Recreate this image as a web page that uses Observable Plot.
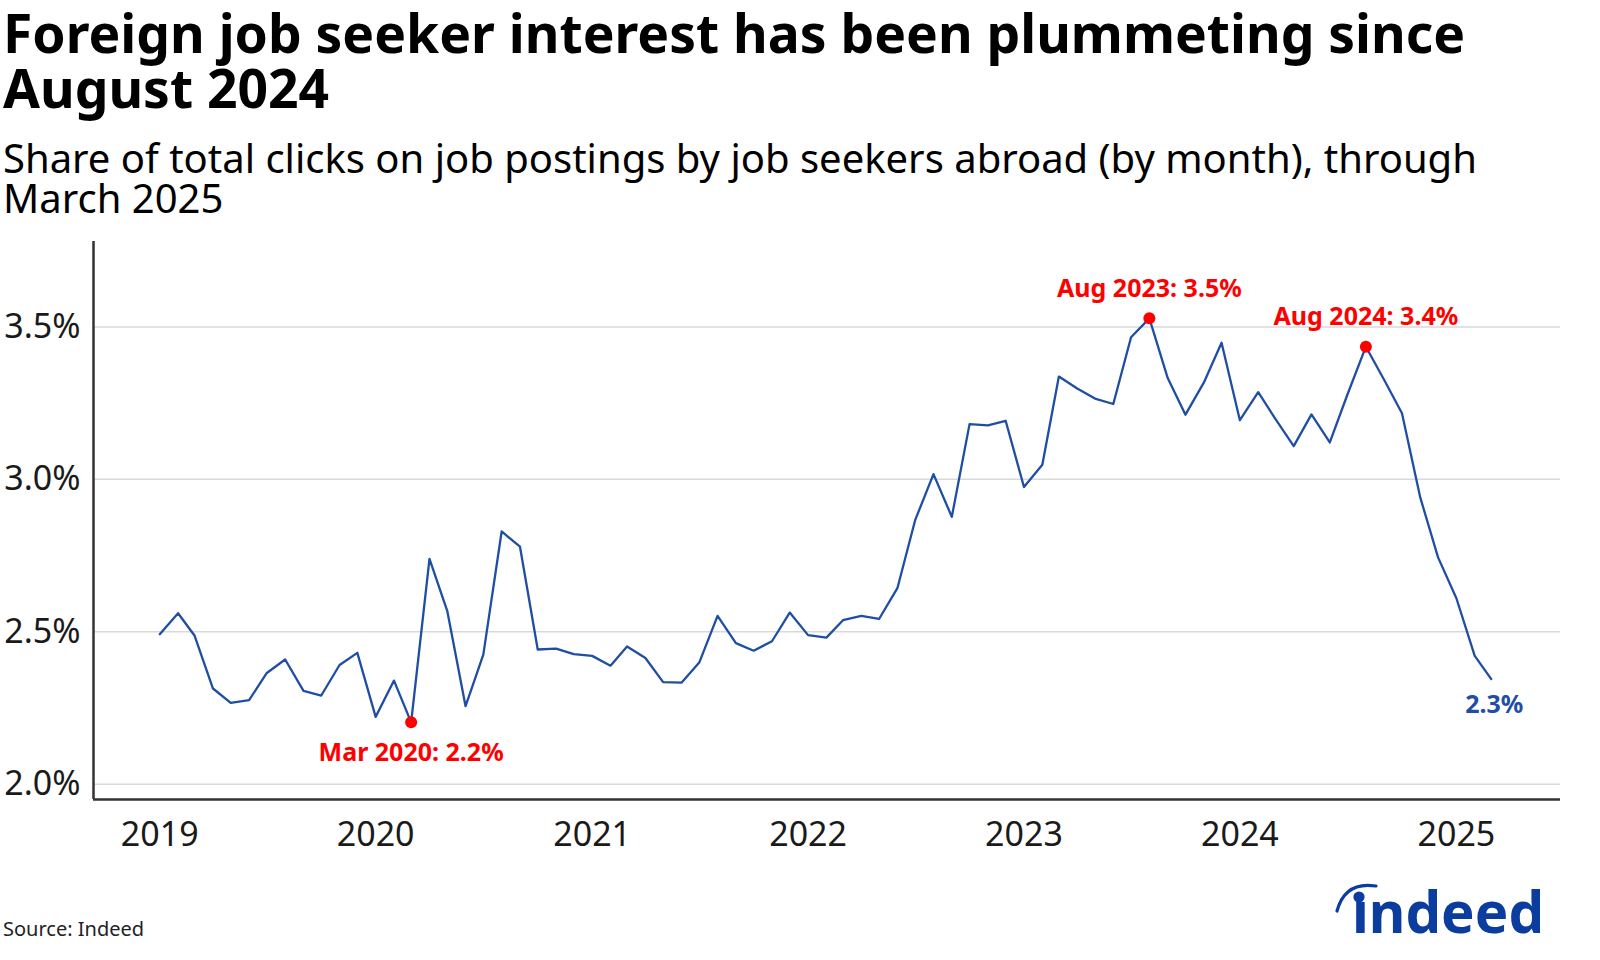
<!DOCTYPE html>
<html>
<head>
<meta charset="utf-8">
<script src="https://cdn.jsdelivr.net/npm/d3@7"></script>
<script src="https://cdn.jsdelivr.net/npm/@observablehq/plot@0.6"></script>
<style>
  html, body { margin: 0; padding: 0; background: #fff; }
  body { width: 1600px; height: 960px; position: relative; overflow: hidden; font-family: "Noto Sans", sans-serif; color: #000; }
  .t { position: absolute; left: 3px; font-size: 53.4px; line-height: 55px; height: 55px; font-weight: 700; white-space: nowrap; }
  .s { position: absolute; left: 3px; font-size: 40px; line-height: 40px; height: 40px; font-weight: 400; white-space: nowrap; }
  #chart { position: absolute; left: 0; top: 220px; }
  #source { position: absolute; left: 3px; top: 917px; font-size: 20px; line-height: 24px; color: #222; }
  #logo { position: absolute; left: 0; top: 0; }
</style>
</head>
<body>
<div class="t" style="top:5px">Foreign job seeker interest has been plummeting since</div>
<div class="t" style="top:60px">August 2024</div>
<div class="s" style="top:138px">Share of total clicks on job postings by job seekers abroad (by month), through</div>
<div class="s" style="top:178px">March 2025</div>
<div id="chart"></div>
<div id="source">Source: Indeed</div>
<svg id="logo" width="1600" height="960" style="pointer-events:none">
  <path d="M1337,911 Q1345,881 1376,886" fill="none" stroke="#0b3d9f" stroke-width="3.2" stroke-linecap="round"/>
  <circle cx="1359" cy="897" r="5.6" fill="#0b3d9f"/>
  <text x="1352" y="933" font-family="Noto Sans" font-weight="700" font-size="58" fill="#0b3d9f" textLength="192" lengthAdjust="spacingAndGlyphs">ındeed</text>
</svg>
<script>
// ---- data ----
const months = [
  "2019-01","2019-02","2019-03","2019-04","2019-05","2019-06","2019-07","2019-08","2019-09","2019-10","2019-11","2019-12",
  "2020-01","2020-02","2020-03","2020-04","2020-05","2020-06","2020-07","2020-08","2020-09","2020-10","2020-11","2020-12",
  "2021-01","2021-02","2021-03","2021-04","2021-05","2021-06","2021-07","2021-08","2021-09","2021-10","2021-11","2021-12",
  "2022-01","2022-02","2022-03","2022-04","2022-05","2022-06","2022-07","2022-08","2022-09","2022-10","2022-11","2022-12",
  "2023-01","2023-02","2023-03","2023-04","2023-05","2023-06","2023-07","2023-08","2023-09","2023-10","2023-11","2023-12",
  "2024-01","2024-02","2024-03","2024-04","2024-05","2024-06","2024-07","2024-08","2024-09","2024-10","2024-11","2024-12",
  "2025-01","2025-02","2025-03"
];
const shares = [
  2.492, 2.561, 2.487, 2.314, 2.267, 2.276, 2.365, 2.409, 2.306, 2.291, 2.391, 2.431,
  2.221, 2.340, 2.203, 2.739, 2.569, 2.256, 2.425, 2.829, 2.779, 2.442, 2.445, 2.427,
  2.421, 2.389, 2.452, 2.414, 2.335, 2.333, 2.399, 2.552, 2.463, 2.438, 2.469, 2.563,
  2.489, 2.481, 2.538, 2.552, 2.542, 2.643, 2.866, 3.017, 2.877, 3.181, 3.177, 3.192,
  2.975, 3.048, 3.337, 3.298, 3.265, 3.247, 3.466, 3.528, 3.332, 3.212, 3.317, 3.448,
  3.194, 3.286, 3.198, 3.109, 3.213, 3.121, 3.279, 3.435, 3.326, 3.217, 2.940, 2.744,
  2.610, 2.421, 2.345
];
const highlightMonths = ["2020-03", "2023-08", "2024-08"];
const highlightLabels = ["Mar 2020: 2.2%", "Aug 2023: 3.5%", "Aug 2024: 3.4%"];
const highlightOffsets = [39, -21, -22];
const lastLabel = "2.3%";
const yTicks = [2.0, 2.5, 3.0, 3.5];
const yDomain = [1.95, 3.78];
const xDomain = ["2018-09-11", "2025-06-26"];
const yearTicks = ["2019-01-01","2020-01-01","2021-01-01","2022-01-01","2023-01-01","2024-01-01","2025-01-01"];

// ---- build ----
const parse = d3.utcParse("%Y-%m");
const data = months.map((m, i) => ({date: parse(m), value: shares[i]}));
const highlights = highlightMonths.map((m, i) => {
  const d = data[months.indexOf(m)];
  return {date: d.date, value: d.value, label: highlightLabels[i], off: highlightOffsets[i]};
});
const last = [{...data[data.length - 1], label: lastLabel}];

const lineColor = "#1f4ea3";
const red = "#ff0000";

const chart = Plot.plot({
  width: 1600,
  height: 650,
  marginTop: 21,
  marginBottom: 71,
  marginLeft: 93,
  marginRight: 40,
  style: {fontFamily: "Noto Sans", fontSize: "34px", color: "#1a1a1a", background: "transparent", overflow: "visible"},
  x: {type: "utc", domain: xDomain.map(d => new Date(d)), label: null},
  y: {domain: yDomain, label: null},
  marks: [
    Plot.gridY(yTicks, {stroke: "#d9d9d9", strokeOpacity: 1, strokeWidth: 1.5}),
    Plot.axisY(yTicks, {tickSize: 0, tickPadding: 13, tickFormat: d => d.toFixed(1) + "%", fontSize: 34, label: null}),
    Plot.axisX(yearTicks.map(d => new Date(d)), {tickSize: 0, tickPadding: 22, tickFormat: d3.utcFormat("%Y"), fontSize: 34, label: null}),
    Plot.ruleY([yDomain[0]], {stroke: "#333", strokeWidth: 2.5}),
    Plot.ruleX([new Date(xDomain[0])], {stroke: "#333", strokeWidth: 2.5}),
    Plot.lineY(data, {x: "date", y: "value", stroke: lineColor, strokeWidth: 2.3}),
    Plot.dot(highlights, {x: "date", y: "value", r: 6, fill: red, stroke: "none"}),
    ...highlights.map(h => Plot.text([h], {x: "date", y: "value", text: "label", dy: h.off, lineAnchor: "bottom", fill: red, fontWeight: 700, fontSize: 25})),
    Plot.text(last, {x: "date", y: "value", text: "label", dy: 34, dx: 3, lineAnchor: "bottom", fill: lineColor, fontWeight: 700, fontSize: 25})
  ]
});
document.getElementById("chart").appendChild(chart);
</script>
</body>
</html>
